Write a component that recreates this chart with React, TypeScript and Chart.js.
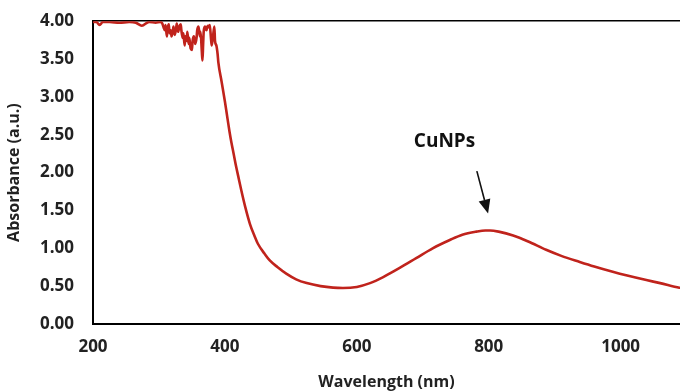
import React, { useEffect, useRef } from "react";
import { Chart, registerables } from "chart.js";

Chart.register(...registerables);

const wavelength = [200, 205, 210, 215, 225, 240, 255, 265, 274, 285, 295, 302,
  305, 307, 309, 310, 312, 313, 315, 316, 318, 319, 321, 322, 324, 326, 327, 329, 331, 333, 334, 336, 337, 339, 340, 342, 343, 345, 346, 348, 350, 351, 353, 355, 357, 358, 360, 362, 363, 365, 366, 367, 368, 370, 372, 374, 376, 377, 379, 380, 382, 384, 385, 387, 389, 390,
  395, 400, 404, 407, 410, 413, 417, 420, 425, 431, 438, 445, 450, 460, 468, 480, 493, 508, 524, 545, 564, 579, 600, 620, 640, 665, 690, 715, 741, 760, 781, 795, 802, 815, 837, 860, 887, 910, 938, 960, 988, 1010, 1039, 1060, 1089, 1100];
const absorbance = [3.99, 3.99, 3.95, 3.99, 3.99, 3.98, 3.99, 3.98, 3.94, 3.99, 3.98, 3.99,
  3.97, 3.92, 3.88, 3.95, 3.8, 3.9, 3.96, 3.84, 3.88, 3.8, 3.86, 3.93, 3.82, 3.9, 3.97, 3.86, 3.93, 3.96, 3.88, 3.78, 3.84, 3.68, 3.8, 3.74, 3.86, 3.7, 3.78, 3.64, 3.62, 3.74, 3.8, 3.7, 3.78, 3.88, 3.93, 3.8, 3.86, 3.6, 3.48, 3.7, 3.88, 3.93, 3.88, 3.94, 3.92, 3.95, 3.76, 3.68, 3.8, 3.93, 3.74, 3.68, 3.56, 3.46,
  3.2, 2.94, 2.71, 2.54, 2.39, 2.26, 2.08, 1.96, 1.76, 1.54, 1.32, 1.16, 1.06, 0.93, 0.84, 0.75, 0.665, 0.59, 0.54, 0.5, 0.48, 0.475, 0.49, 0.54, 0.62, 0.74, 0.87, 1.0, 1.11, 1.18, 1.22, 1.235, 1.235, 1.22, 1.17, 1.09, 0.98, 0.9, 0.82, 0.76, 0.69, 0.64, 0.58, 0.54, 0.48, 0.465];
const xTicks = [200, 400, 600, 800, 1000];
const annotationLabel = "CuNPs";
const annotationText = { x: 733, y: 2.41 };
const arrowFrom = { x: 782, y: 2.02 };
const arrowTo = { x: 799, y: 1.46 };

const FONT = "'Open Sans', sans-serif";
const TEXT = "#222";

const annotationPlugin = {
  id: "cunpsAnnotation",
  afterDatasetsDraw(chart: any) {
    const { ctx, scales } = chart;
    const xs = scales.x, ys = scales.y;
    ctx.save();
    ctx.fillStyle = "#111";
    ctx.font = `bold 19px ${FONT}`;
    ctx.textAlign = "center";
    ctx.textBaseline = "middle";
    ctx.fillText(annotationLabel, xs.getPixelForValue(annotationText.x), ys.getPixelForValue(annotationText.y));
    const x1 = xs.getPixelForValue(arrowFrom.x), y1 = ys.getPixelForValue(arrowFrom.y);
    const x2 = xs.getPixelForValue(arrowTo.x), y2 = ys.getPixelForValue(arrowTo.y);
    const ang = Math.atan2(y2 - y1, x2 - x1);
    const headLen = 14, headW = 6;
    const bx = x2 - headLen * Math.cos(ang), by = y2 - headLen * Math.sin(ang);
    ctx.strokeStyle = "#111";
    ctx.lineWidth = 1.6;
    ctx.beginPath();
    ctx.moveTo(x1, y1);
    ctx.lineTo(bx, by);
    ctx.stroke();
    ctx.beginPath();
    ctx.moveTo(x2, y2);
    ctx.lineTo(bx + headW * Math.sin(ang), by - headW * Math.cos(ang));
    ctx.lineTo(bx - headW * Math.sin(ang), by + headW * Math.cos(ang));
    ctx.closePath();
    ctx.fill();
    ctx.restore();
  },
};

export default function App() {
  const ref = useRef<HTMLCanvasElement>(null);
  useEffect(() => {
    if (!ref.current) return;
    const chart = new Chart(ref.current, {
      type: "line",
      data: {
        datasets: [
          {
            data: wavelength.map((w, i) => ({ x: w, y: absorbance[i] })),
            borderColor: "#C0231C",
            borderWidth: 2.6,
            pointRadius: 0,
            cubicInterpolationMode: "monotone",
            fill: false,
          },
        ],
      },
      options: {
        animation: false,
        responsive: false,
        layout: { padding: { left: 0, right: 0, top: 11, bottom: 0 } },
        plugins: { legend: { display: false }, tooltip: { enabled: false } },
        scales: {
          x: {
            type: "linear",
            min: 200,
            max: 1090,
            afterBuildTicks: (axis: any) => {
              axis.ticks = xTicks.map((v) => ({ value: v }));
            },
            afterFit: (s: any) => {
              s.height = 68;
            },
            grid: { display: false, drawTicks: false },
            border: { display: true, color: "#000", width: 2 },
            ticks: {
              padding: 13,
              color: TEXT,
              font: { family: FONT, size: 17, weight: "bold" },
              maxRotation: 0,
              callback: (v: any) => String(v),
            },
            title: {
              display: true,
              text: "Wavelength (nm)",
              color: TEXT,
              font: { family: FONT, size: 16, weight: "bold" },
              padding: { top: 1, bottom: 0 },
            },
          },
          y: {
            min: 0,
            max: 4,
            afterFit: (s: any) => {
              s.width = 93;
            },
            grid: {
              display: true,
              drawTicks: false,
              color: (c: any) => (c.tick && c.tick.value === 4 ? "#000" : "rgba(0,0,0,0)"),
              lineWidth: 1.5,
            },
            border: { display: true, color: "#000", width: 2 },
            ticks: {
              stepSize: 0.5,
              padding: 19,
              color: TEXT,
              font: { family: FONT, size: 17, weight: "bold" },
              callback: (v: any) => Number(v).toFixed(2),
            },
            title: {
              display: true,
              text: "Absorbance (a.u.)",
              color: TEXT,
              font: { family: FONT, size: 16, weight: "bold" },
              padding: { top: 5, bottom: 0 },
            },
          },
        },
      },
      plugins: [annotationPlugin],
    });
    return () => chart.destroy();
  }, []);
  return (
    <div style={{ position: "absolute", left: 0, top: 0, width: 680, height: 392, overflow: "hidden", background: "#fff" }}>
      <canvas
        ref={ref}
        width={680}
        height={400}
        style={{ position: "absolute", left: 0, top: -8, width: 680, height: 400 }}
      />
    </div>
  );
}
